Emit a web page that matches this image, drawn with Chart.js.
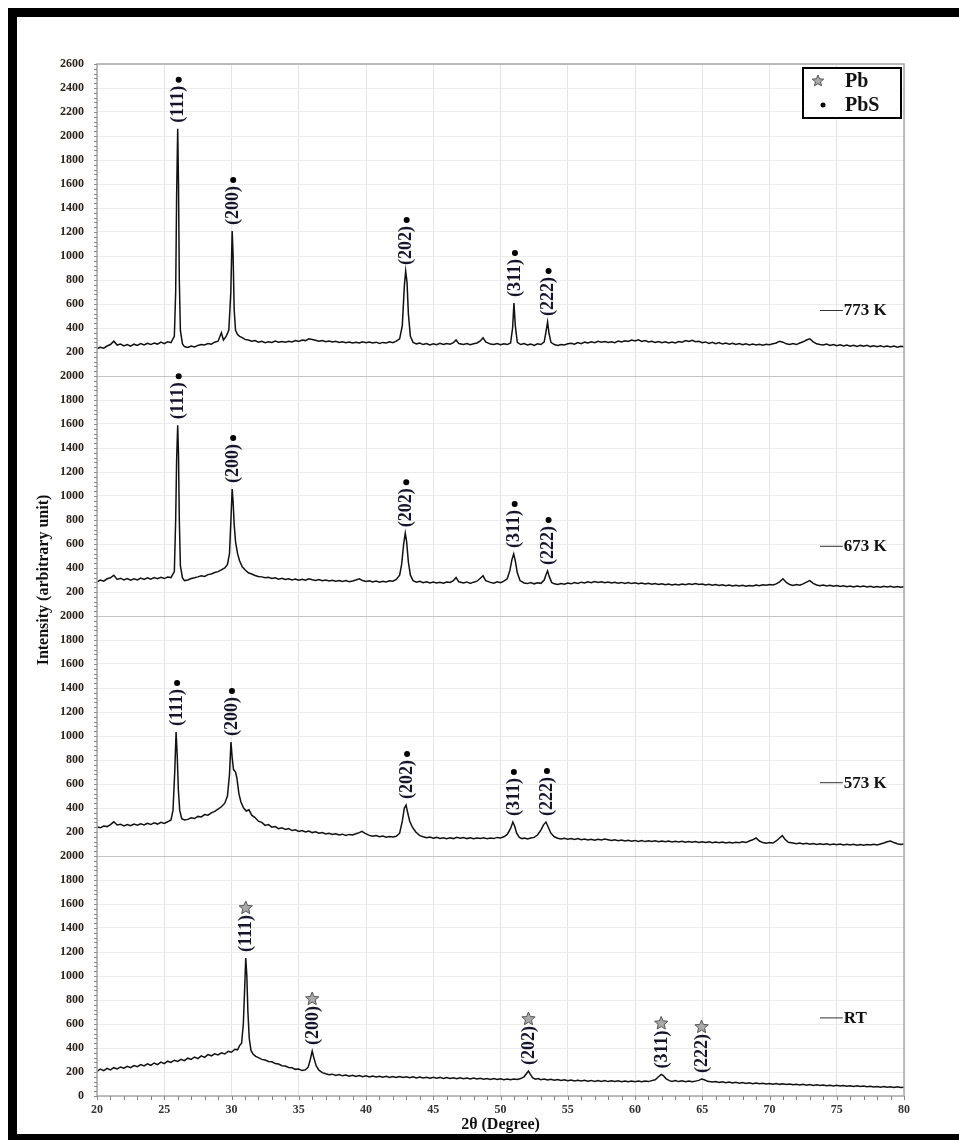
<!DOCTYPE html>
<html>
<head>
<meta charset="utf-8">
<script src="https://cdn.jsdelivr.net/npm/chart.js@4.4.1/dist/chart.umd.min.js"></script>
<style>
  html, body { margin: 0; padding: 0; background: #fff; overflow: hidden; }
  #frame {
    position: absolute; left: 8px; top: 8px; width: 960px; height: 1117px;
    border-left: 9px solid #000; border-top: 9px solid #000; border-bottom: 8px solid #000;
    background: #fff;
  }
  #xrdChart { position: absolute; left: 0; top: 0; }
</style>
</head>
<body>
<div id="frame"></div>
<canvas id="xrdChart" width="959" height="1140"></canvas>
<script>
// XRD patterns, [2theta (deg), intensity (a.u.)]
const xrd773 = [[20,228],[20.25,240],[20.5,232],[20.75,250],[21,262],[21.25,290],[21.5,258],[21.75,266],[22,250],[22.25,262],[22.5,248],[22.75,265],[23,255],[23.25,270],[23.5,258],[23.75,272],[24,262],[24.25,275],[24.5,266],[24.75,282],[25,270],[25.25,285],[25.5,278],[25.75,330],[25.85,700],[25.92,1500],[26,2060],[26.06,1600],[26.12,800],[26.2,380],[26.35,270],[26.5,245],[26.75,238],[27,250],[27.25,242],[27.5,255],[27.75,262],[28,258],[28.25,270],[28.5,265],[28.75,282],[29,290],[29.25,360],[29.4,300],[29.6,330],[29.8,380],[29.95,700],[30.05,1208],[30.12,1000],[30.2,550],[30.3,380],[30.45,345],[30.6,330],[30.8,320],[31,305],[31.25,300],[31.5,290],[31.75,295],[32,282],[32.25,290],[32.5,278],[32.75,285],[33,280],[33.25,292],[33.5,282],[33.75,288],[34,282],[34.25,290],[34.5,284],[34.75,296],[35,288],[35.25,300],[35.5,295],[35.75,310],[36,305],[36.25,298],[36.5,290],[36.75,296],[37,286],[37.25,292],[37.5,284],[37.75,290],[38,280],[38.25,286],[38.5,278],[38.75,284],[39,276],[39.25,282],[39.5,275],[39.75,286],[40,278],[40.25,284],[40.5,276],[40.75,282],[41,272],[41.25,280],[41.5,275],[41.75,285],[42,278],[42.25,290],[42.5,310],[42.7,420],[42.85,750],[42.95,875],[43.05,780],[43.15,520],[43.3,330],[43.5,280],[43.75,268],[44,275],[44.25,262],[44.5,270],[44.75,258],[45,268],[45.25,260],[45.5,272],[45.75,262],[46,270],[46.25,265],[46.5,278],[46.7,300],[46.9,270],[47.25,262],[47.5,270],[47.75,260],[48,268],[48.25,275],[48.5,292],[48.7,318],[48.9,285],[49.25,266],[49.5,262],[49.75,270],[50,260],[50.25,268],[50.5,262],[50.75,275],[50.9,400],[51,608],[51.1,420],[51.25,280],[51.5,262],[51.75,270],[52,258],[52.25,266],[52.5,255],[52.75,268],[53,262],[53.25,285],[53.4,380],[53.5,450],[53.6,360],[53.75,280],[54,262],[54.25,255],[54.5,262],[54.75,258],[55,268],[55.25,272],[55.5,265],[55.75,278],[56,270],[56.25,282],[56.5,275],[56.75,285],[57,278],[57.25,290],[57.5,282],[57.75,288],[58,280],[58.25,286],[58.5,278],[58.75,292],[59,284],[59.25,294],[59.5,288],[59.75,300],[60,292],[60.25,302],[60.5,288],[60.75,296],[61,284],[61.25,290],[61.5,280],[61.75,288],[62,278],[62.25,286],[62.5,276],[62.75,284],[63,276],[63.25,288],[63.5,282],[63.75,295],[64,288],[64.25,298],[64.5,285],[64.75,290],[65,278],[65.25,284],[65.5,272],[65.75,280],[66,270],[66.25,278],[66.5,266],[66.75,274],[67,265],[67.25,272],[67.5,262],[67.75,270],[68,260],[68.25,268],[68.5,258],[68.75,266],[69,258],[69.25,265],[69.5,256],[69.75,264],[70,260],[70.25,268],[70.5,275],[70.75,290],[71,282],[71.25,268],[71.5,262],[71.75,270],[72,262],[72.25,275],[72.5,285],[72.75,300],[73,310],[73.25,285],[73.5,268],[73.75,262],[74,258],[74.25,266],[74.5,255],[74.75,262],[75,252],[75.25,260],[75.5,250],[75.75,258],[76,248],[76.25,256],[76.5,246],[76.75,255],[77,248],[77.25,256],[77.5,245],[77.75,252],[78,244],[78.25,252],[78.5,243],[78.75,250],[79,242],[79.25,250],[79.5,240],[79.75,248],[80,244]];

const xrd673 = [[20,285],[20.25,300],[20.5,290],[20.75,310],[21,318],[21.25,340],[21.5,305],[21.75,315],[22,300],[22.25,312],[22.5,298],[22.75,310],[23,300],[23.25,316],[23.5,304],[23.75,318],[24,306],[24.25,320],[24.5,310],[24.75,322],[25,312],[25.25,325],[25.5,320],[25.75,370],[25.85,800],[25.92,1300],[26,1590],[26.06,1350],[26.12,800],[26.2,420],[26.35,320],[26.5,295],[26.75,300],[27,312],[27.25,318],[27.5,326],[27.75,335],[28,330],[28.25,345],[28.5,350],[28.75,362],[29,370],[29.25,385],[29.5,400],[29.7,430],[29.85,520],[29.95,780],[30.05,1058],[30.12,950],[30.2,760],[30.3,620],[30.45,520],[30.6,460],[30.8,410],[31,385],[31.25,360],[31.5,350],[31.75,338],[32,330],[32.25,326],[32.5,318],[32.75,322],[33,312],[33.25,318],[33.5,306],[33.75,314],[34,305],[34.25,310],[34.5,300],[34.75,308],[35,298],[35.25,306],[35.5,298],[35.75,310],[36,302],[36.25,296],[36.5,304],[36.75,294],[37,300],[37.25,292],[37.5,298],[37.75,290],[38,296],[38.25,288],[38.5,295],[38.75,286],[39,292],[39.25,300],[39.5,310],[39.75,295],[40,288],[40.25,294],[40.5,284],[40.75,292],[41,282],[41.25,290],[41.5,284],[41.75,294],[42,290],[42.25,305],[42.5,340],[42.65,430],[42.8,600],[42.92,690],[43.02,620],[43.15,450],[43.3,340],[43.5,295],[43.75,282],[44,290],[44.25,278],[44.5,286],[44.75,276],[45,284],[45.25,275],[45.5,282],[45.75,274],[46,284],[46.25,280],[46.5,295],[46.7,320],[46.9,285],[47.25,276],[47.5,284],[47.75,272],[48,282],[48.25,290],[48.5,315],[48.7,335],[48.9,295],[49.25,280],[49.5,274],[49.75,285],[50,278],[50.25,290],[50.5,310],[50.7,380],[50.85,470],[50.98,517],[51.1,460],[51.25,360],[51.45,295],[51.75,275],[52,270],[52.25,278],[52.5,268],[52.75,276],[53,272],[53.25,300],[53.4,350],[53.5,375],[53.62,330],[53.8,280],[54,268],[54.25,262],[54.5,270],[54.75,264],[55,274],[55.25,268],[55.5,278],[55.75,272],[56,282],[56.25,276],[56.5,285],[56.75,278],[57,288],[57.25,280],[57.5,286],[57.75,278],[58,284],[58.25,276],[58.5,282],[58.75,274],[59,280],[59.25,272],[59.5,278],[59.75,270],[60,276],[60.25,268],[60.5,274],[60.75,266],[61,272],[61.25,264],[61.5,270],[61.75,262],[62,268],[62.25,260],[62.5,266],[62.75,258],[63,264],[63.25,258],[63.5,266],[63.75,260],[64,268],[64.25,262],[64.5,270],[64.75,262],[65,266],[65.25,258],[65.5,264],[65.75,256],[66,262],[66.25,254],[66.5,260],[66.75,252],[67,258],[67.25,250],[67.5,256],[67.75,250],[68,256],[68.25,248],[68.5,255],[68.75,250],[69,258],[69.25,252],[69.5,260],[69.75,256],[70,262],[70.25,258],[70.5,268],[70.75,285],[71,310],[71.25,280],[71.5,262],[71.75,255],[72,262],[72.25,256],[72.5,268],[72.75,282],[73,295],[73.25,272],[73.5,258],[73.75,252],[74,258],[74.25,250],[74.5,256],[74.75,248],[75,254],[75.25,246],[75.5,252],[75.75,244],[76,250],[76.25,242],[76.5,250],[76.75,244],[77,250],[77.25,242],[77.5,248],[77.75,240],[78,246],[78.25,240],[78.5,248],[78.75,242],[79,248],[79.25,240],[79.5,246],[79.75,240],[80,244]];

const xrd573 = [[20,242],[20.25,235],[20.5,250],[20.75,245],[21,262],[21.25,285],[21.5,258],[21.75,265],[22,250],[22.25,262],[22.5,252],[22.75,266],[23,256],[23.25,268],[23.5,258],[23.75,272],[24,262],[24.25,276],[24.5,266],[24.75,280],[25,272],[25.25,285],[25.5,300],[25.65,380],[25.78,700],[25.88,1033],[25.96,850],[26.05,550],[26.15,380],[26.3,310],[26.5,300],[26.75,305],[27,318],[27.25,312],[27.5,330],[27.75,326],[28,345],[28.25,340],[28.5,360],[28.75,372],[29,390],[29.25,410],[29.5,440],[29.7,500],[29.85,680],[29.96,950],[30.05,820],[30.15,720],[30.3,700],[30.4,650],[30.55,520],[30.7,450],[30.9,400],[31.1,375],[31.3,385],[31.5,340],[31.75,320],[32,290],[32.25,280],[32.5,255],[32.75,262],[33,240],[33.25,245],[33.5,228],[33.75,236],[34,222],[34.25,228],[34.5,212],[34.75,218],[35,205],[35.25,212],[35.5,200],[35.75,208],[36,195],[36.25,202],[36.5,190],[36.75,196],[37,184],[37.25,190],[37.5,180],[37.75,186],[38,175],[38.25,182],[38.5,172],[38.75,180],[39,176],[39.25,185],[39.5,195],[39.7,205],[39.9,190],[40.25,172],[40.5,165],[40.75,170],[41,160],[41.25,166],[41.5,156],[41.75,162],[42,158],[42.25,165],[42.5,190],[42.7,290],[42.85,400],[42.98,425],[43.1,360],[43.25,290],[43.45,240],[43.7,200],[44,170],[44.25,160],[44.5,152],[44.75,158],[45,148],[45.25,155],[45.5,146],[45.75,152],[46,144],[46.25,152],[46.5,145],[46.75,156],[47,148],[47.25,154],[47.5,145],[47.75,152],[48,144],[48.25,150],[48.5,145],[48.75,152],[49,144],[49.25,150],[49.5,145],[49.75,155],[50,150],[50.25,160],[50.5,180],[50.75,230],[50.92,283],[51.05,250],[51.2,190],[51.4,155],[51.6,145],[51.8,150],[52,142],[52.25,150],[52.5,155],[52.75,175],[53,215],[53.2,260],[53.38,283],[53.55,240],[53.75,190],[54,160],[54.25,148],[54.5,142],[54.75,148],[55,140],[55.25,146],[55.5,138],[55.75,145],[56,136],[56.25,142],[56.5,134],[56.75,140],[57,132],[57.25,140],[57.5,134],[57.75,142],[58,136],[58.25,130],[58.5,136],[58.75,128],[59,134],[59.25,126],[59.5,132],[59.75,124],[60,130],[60.25,122],[60.5,128],[60.75,120],[61,126],[61.25,120],[61.5,126],[61.75,118],[62,124],[62.25,118],[62.5,124],[62.75,116],[63,122],[63.25,116],[63.5,122],[63.75,114],[64,120],[64.25,114],[64.5,120],[64.75,112],[65,118],[65.25,112],[65.5,118],[65.75,110],[66,116],[66.25,110],[66.5,116],[66.75,108],[67,114],[67.25,108],[67.5,114],[67.75,110],[68,118],[68.25,112],[68.5,125],[68.75,135],[69,150],[69.25,125],[69.5,112],[69.75,106],[70,112],[70.25,108],[70.5,125],[70.75,150],[70.95,170],[71.15,140],[71.4,115],[71.75,108],[72,102],[72.25,108],[72.5,100],[72.75,106],[73,98],[73.25,104],[73.5,96],[73.75,102],[74,96],[74.25,102],[74.5,94],[74.75,100],[75,94],[75.25,100],[75.5,92],[75.75,98],[76,92],[76.25,98],[76.5,90],[76.75,96],[77,90],[77.25,96],[77.5,92],[77.75,98],[78,92],[78.25,100],[78.5,108],[78.75,118],[79,125],[79.25,112],[79.5,102],[79.75,96],[80,100]];

const xrdRT = [[20,205],[20.25,225],[20.5,212],[20.75,230],[21,218],[21.25,236],[21.5,225],[21.75,242],[22,232],[22.25,248],[22.5,236],[22.75,254],[23,244],[23.25,262],[23.5,250],[23.75,268],[24,256],[24.25,275],[24.5,262],[24.75,282],[25,270],[25.25,290],[25.5,280],[25.75,298],[26,288],[26.25,305],[26.5,295],[26.75,315],[27,305],[27.25,325],[27.5,312],[27.75,335],[28,322],[28.25,345],[28.5,335],[28.75,352],[29,342],[29.25,360],[29.5,350],[29.75,372],[30,365],[30.25,390],[30.45,385],[30.6,420],[30.75,440],[30.88,600],[30.98,900],[31.06,1150],[31.14,1000],[31.22,700],[31.32,480],[31.45,380],[31.6,350],[31.8,330],[32,320],[32.25,305],[32.5,300],[32.75,288],[33,285],[33.25,270],[33.5,266],[33.75,252],[34,250],[34.25,238],[34.5,235],[34.75,222],[35,225],[35.25,212],[35.5,218],[35.7,240],[35.85,300],[36,375],[36.12,320],[36.3,250],[36.5,215],[36.75,195],[37,185],[37.25,178],[37.5,182],[37.75,172],[38,178],[38.25,168],[38.5,175],[38.75,165],[39,172],[39.25,162],[39.5,170],[39.75,160],[40,168],[40.25,158],[40.5,166],[40.75,158],[41,165],[41.25,156],[41.5,164],[41.75,155],[42,163],[42.25,154],[42.5,162],[42.75,154],[43,160],[43.25,152],[43.5,160],[43.75,150],[44,158],[44.25,150],[44.5,156],[44.75,148],[45,156],[45.25,148],[45.5,155],[45.75,146],[46,154],[46.25,146],[46.5,152],[46.75,144],[47,152],[47.25,144],[47.5,150],[47.75,142],[48,150],[48.25,142],[48.5,148],[48.75,140],[49,146],[49.25,138],[49.5,145],[49.75,138],[50,144],[50.25,136],[50.5,142],[50.75,136],[51,142],[51.25,138],[51.5,145],[51.75,160],[51.95,190],[52.08,208],[52.22,180],[52.4,150],[52.6,140],[52.8,146],[53,136],[53.25,142],[53.5,134],[53.75,140],[54,132],[54.25,138],[54.5,130],[54.75,136],[55,128],[55.25,134],[55.5,126],[55.75,132],[56,126],[56.25,132],[56.5,124],[56.75,130],[57,122],[57.25,128],[57.5,122],[57.75,128],[58,120],[58.25,126],[58.5,120],[58.75,126],[59,118],[59.25,125],[59.5,118],[59.75,124],[60,118],[60.25,124],[60.5,118],[60.75,125],[61,120],[61.25,128],[61.5,135],[61.75,160],[61.95,180],[62.1,170],[62.3,145],[62.55,128],[62.75,122],[63,128],[63.25,120],[63.5,126],[63.75,118],[64,124],[64.25,118],[64.5,124],[64.75,130],[64.95,142],[65.15,135],[65.4,122],[65.75,116],[66,120],[66.25,112],[66.5,118],[66.75,110],[67,116],[67.25,108],[67.5,114],[67.75,106],[68,112],[68.25,105],[68.5,110],[68.75,103],[69,108],[69.25,102],[69.5,106],[69.75,100],[70,105],[70.25,98],[70.5,104],[70.75,97],[71,102],[71.25,95],[71.5,100],[71.75,94],[72,98],[72.25,92],[72.5,97],[72.75,90],[73,95],[73.25,88],[73.5,93],[73.75,87],[74,92],[74.25,86],[74.5,90],[74.75,84],[75,89],[75.25,83],[75.5,88],[75.75,82],[76,86],[76.25,80],[76.5,85],[76.75,79],[77,84],[77.25,78],[77.5,82],[77.75,76],[78,80],[78.25,74],[78.5,79],[78.75,73],[79,77],[79.25,71],[79.5,76],[79.75,70],[80,74]];

// Peak indexing
const hklLabels = ['(111)', '(200)', '(202)', '(311)', '(222)'];
const peaks773 = [26.0, 30.05, 42.95, 51.0, 53.5];
const peaks673 = [26.0, 30.05, 42.92, 50.98, 53.5];
const peaks573 = [25.88, 29.96, 42.98, 50.92, 53.38];
const peaksRT = [31.06, 36.0, 52.08, 61.95, 64.95];

const sampleNames = ['773 K', '673 K', '573 K', 'RT'];
const legendNames = ['Pb', 'PbS'];

// stacked panels: each one gets its own 0..2000 band on a shared axis
const panels = [
  { name: sampleNames[0], data: xrd773, peaks: peaks773, phase: 'PbS', offset: 6000, labelAt: 550 },
  { name: sampleNames[1], data: xrd673, peaks: peaks673, phase: 'PbS', offset: 4000, labelAt: 585 },
  { name: sampleNames[2], data: xrd573, peaks: peaks573, phase: 'PbS', offset: 2000, labelAt: 615 },
  { name: sampleNames[3], data: xrdRT, peaks: peaksRT, phase: 'Pb', offset: 0, labelAt: 655 }
];

const SERIF = "'Liberation Serif', 'Times New Roman', serif";

function drawStar(ctx, cx, cy, r) {
  ctx.beginPath();
  for (let i = 0; i < 10; i++) {
    const rad = i % 2 === 0 ? r : r * 0.45;
    const a = -Math.PI / 2 + i * Math.PI / 5;
    const px = cx + rad * Math.cos(a), py = cy + rad * Math.sin(a);
    if (i === 0) ctx.moveTo(px, py); else ctx.lineTo(px, py);
  }
  ctx.closePath();
  ctx.fillStyle = '#a9a9a9';
  ctx.fill();
  ctx.lineWidth = 1;
  ctx.strokeStyle = '#555';
  ctx.stroke();
}

function drawDot(ctx, cx, cy, r) {
  ctx.beginPath();
  ctx.arc(cx, cy, r, 0, Math.PI * 2);
  ctx.fillStyle = '#000';
  ctx.fill();
}

const decorations = {
  id: 'decorations',
  afterDatasetsDraw(chart) {
    const { ctx, chartArea: area, scales: { x, y } } = chart;
    ctx.save();

    // plot frame
    ctx.strokeStyle = '#a8a8a8';
    ctx.lineWidth = 1.5;
    ctx.strokeRect(area.left, area.top, area.right - area.left, area.bottom - area.top);

    // minor ticks
    ctx.strokeStyle = '#888';
    ctx.lineWidth = 1;
    ctx.beginPath();
    for (let t = 20; t <= 80; t += 1) {
      const px = Math.round(x.getPixelForValue(t)) + 0.5;
      ctx.moveTo(px, area.bottom);
      ctx.lineTo(px, area.bottom + 4);
    }
    for (let v = 0; v <= 8600; v += 40) {
      const py = Math.round(y.getPixelForValue(v)) + 0.5;
      ctx.moveTo(area.left - 3, py);
      ctx.lineTo(area.left, py);
    }
    ctx.stroke();

    // peak indexing labels
    ctx.font = 'bold 18px ' + SERIF;
    panels.forEach(p => {
      p.peaks.forEach((angle, i) => {
        let top = 0;
        p.data.forEach(([t, v]) => { if (Math.abs(t - angle) < 0.3 && v > top) top = v; });
        const px = x.getPixelForValue(angle);
        const py = y.getPixelForValue(top + p.offset) - 6;
        ctx.font = 'bold 18px ' + SERIF;
        const w = ctx.measureText(hklLabels[i]).width;
        ctx.save();
        ctx.translate(px, py);
        ctx.rotate(-Math.PI / 2);
        ctx.fillStyle = '#14142a';
        ctx.textAlign = 'left';
        ctx.textBaseline = 'middle';
        ctx.fillText(hklLabels[i], 0, 1);
        ctx.restore();
        if (p.phase === 'Pb') drawStar(ctx, px, py - w - 7, 7);
        else drawDot(ctx, px + 1, py - w - 6, 3);
      });

      // sample name with its short line
      const ly = y.getPixelForValue(p.labelAt + p.offset);
      const lx0 = x.getPixelForValue(73.75), lx1 = x.getPixelForValue(75.45);
      ctx.strokeStyle = '#333';
      ctx.lineWidth = 1;
      ctx.beginPath();
      ctx.moveTo(lx0, ly + 0.5);
      ctx.lineTo(lx1, ly + 0.5);
      ctx.stroke();
      ctx.fillStyle = '#111';
      ctx.font = 'bold 17px ' + SERIF;
      ctx.textAlign = 'left';
      ctx.textBaseline = 'middle';
      ctx.fillText(p.name, lx1 + 1, ly + 1);
    });

    // phase legend box
    const bx = area.right - 101, by = area.top + 4, bw = 98, bh = 50;
    ctx.fillStyle = '#fff';
    ctx.fillRect(bx, by, bw, bh);
    ctx.strokeStyle = '#000';
    ctx.lineWidth = 2;
    ctx.strokeRect(bx, by, bw, bh);
    drawStar(ctx, bx + 15, by + 13, 6);
    drawDot(ctx, bx + 20, by + 37, 2.5);
    ctx.fillStyle = '#111';
    ctx.font = 'bold 20px ' + SERIF;
    ctx.textAlign = 'left';
    ctx.textBaseline = 'middle';
    ctx.fillText(legendNames[0], bx + 42, by + 14);
    ctx.fillText(legendNames[1], bx + 42, by + 38);

    ctx.restore();
  }
};

const ctx = document.getElementById('xrdChart').getContext('2d');
new Chart(ctx, {
  type: 'line',
  data: {
    datasets: panels.map(p => ({
      label: p.name,
      data: p.data.map(([t, v]) => ({ x: t, y: v + p.offset })),
      borderColor: '#111',
      borderWidth: 1.5,
      pointRadius: 0,
      tension: 0,
      fill: false
    }))
  },
  options: {
    responsive: false,
    animation: false,
    devicePixelRatio: 1,
    layout: { padding: { left: 0, top: 64, right: 55, bottom: 0 } },
    plugins: {
      legend: { display: false },
      tooltip: { enabled: false }
    },
    scales: {
      x: {
        type: 'linear',
        min: 20,
        max: 80,
        afterFit: s => { s.height = 44; },
        ticks: {
          stepSize: 5,
          padding: 7,
          color: '#333',
          font: { family: SERIF, weight: 'bold', size: 12 }
        },
        grid: { color: '#e4e4e4', drawTicks: false },
        border: { display: false },
        title: {
          display: true,
          text: '2θ (Degree)',
          color: '#111',
          padding: { top: 0, bottom: 6 },
          font: { family: SERIF, weight: 'bold', size: 16 }
        }
      },
      y: {
        type: 'linear',
        min: 0,
        max: 8600,
        afterFit: s => { s.width = 97; },
        ticks: {
          stepSize: 200,
          padding: 13,
          color: '#2a2218',
          font: { family: SERIF, weight: 'bold', size: 12 },
          callback: v => {
            v = Math.round(v);
            if (v > 6000) return v - 6000;
            if (v === 0) return 0;
            return ((v - 1) % 2000) + 1;
          }
        },
        grid: {
          color: c => [2000, 4000, 6000].includes(Math.round(c.tick.value)) ? '#c4c4c4' : '#ececec',
          drawTicks: false
        },
        border: { display: false },
        title: {
          display: true,
          text: 'Intensity (arbitrary unit)',
          color: '#111',
          padding: { top: 34, bottom: 0 },
          font: { family: SERIF, weight: 'bold', size: 16 }
        }
      }
    }
  },
  plugins: [decorations]
});
</script>
</body>
</html>
